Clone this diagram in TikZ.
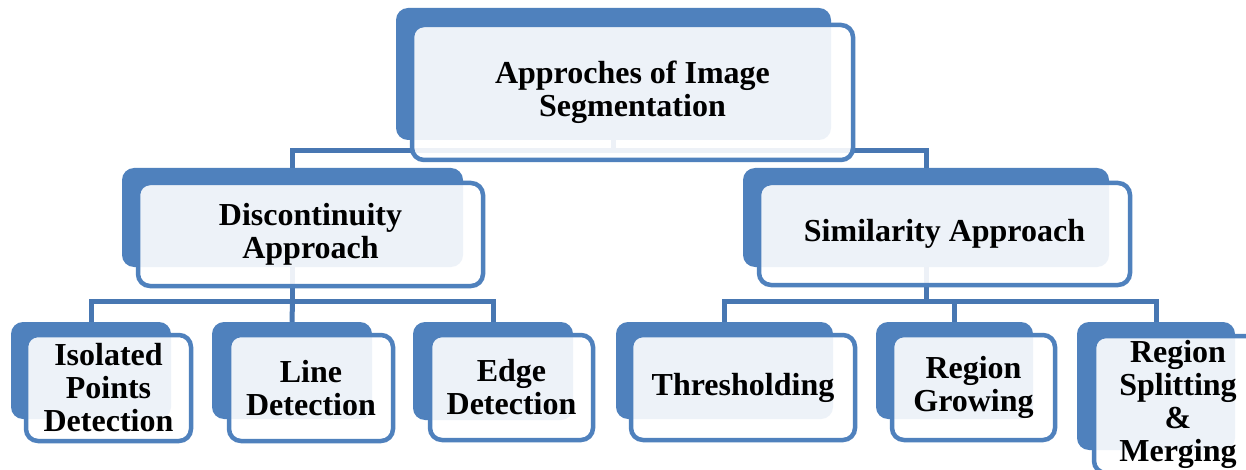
\documentclass[tikz,border=0pt]{standalone}
\usepackage{fontspec}
\setmainfont{Liberation Serif}
\usetikzlibrary{fit,backgrounds}
\definecolor{boxblue}{RGB}{79,129,189}
\definecolor{linkblue}{RGB}{72,119,178}
\begin{document}
\begin{tikzpicture}[x=1pt,y=-1pt,
  backbox/.style={fill=boxblue, draw=none, rounded corners=12pt, inner sep=0pt},
  frontbox/.style={draw=boxblue, line width=4.5pt, fill=white, fill opacity=0.9,
    text opacity=1, rounded corners=12pt, inner sep=0pt, align=center,
    font=\fontsize{32}{33}\selectfont\bfseries},
  conn/.style={draw=linkblue, line width=5pt}]
\useasboundingbox (0,0) rectangle (1246,470);
\clip (0,0) rectangle (1246,470);

% top
\node[backbox, fit={(396,8) (831,140)}] (topB) {};
\node[frontbox, minimum width=441pt, minimum height=135pt] (topF) at (632.5,92.5) {Approches of Image\\Segmentation};
% level 2
\node[backbox, fit={(122,168) (463,267)}] (discB) {};
\node[frontbox, minimum width=345pt, minimum height=103pt] (discF) at (310.5,234.5) {Discontinuity\\Approach};
\node[backbox, fit={(743,168) (1109,267)}] (simB) {};
\node[frontbox, minimum width=371pt, minimum height=102pt] (simF) at (944.5,234) {Similarity Approach};
% level 3 left
\node[backbox, fit={(11,322) (171,419)}] (isoB) {};
\node[frontbox, minimum width=165pt, minimum height=106pt] (isoF) at (108.5,388) {Isolated\\Points\\Detection};
\node[backbox, fit={(212,322) (372,419)}] (lineB) {};
\node[frontbox, minimum width=164pt, minimum height=106pt] (lineF) at (311,388) {Line\\Detection};
\node[backbox, fit={(413,322) (573,420)}] (edgeB) {};
\node[frontbox, minimum width=163pt, minimum height=105pt] (edgeF) at (511.5,387.5) {Edge\\Detection};
% level 3 right
\node[backbox, fit={(616,322) (833,419)}] (thrB) {};
\node[frontbox, minimum width=224pt, minimum height=105pt] (thrF) at (743,387.5) {Thresholding};
\node[backbox, fit={(876,322) (1033,419)}] (growB) {};
\node[frontbox, minimum width=163pt, minimum height=105pt] (growF) at (973.5,387.5) {Region\\Growing};
\node[backbox, fit={(1077,322) (1235,450)}] (splitB) {};
\node[frontbox, minimum width=168pt, minimum height=137pt] (splitF) at (1178,404.5) {Region\\Splitting\\\&\\Merging};

\begin{scope}[on background layer]
  \fill[white] (0,0) rectangle (1246,470);
  \coordinate (topJ) at ([yshift=-10pt]topB.south);
  \coordinate (discJ) at ([yshift=-34pt]discB.south);
  \coordinate (simJ) at ([yshift=-34pt]simB.south);
  \draw[conn] (topB.south) -- (topJ);
  \draw[conn] (topJ) -| (discB.north);
  \draw[conn] (topJ) -| (simB.north);
  \draw[conn] (discB.south) -- (discJ);
  \draw[conn] (discJ) -| (isoB.north);
  \draw[conn] (discJ) -| (edgeB.north);
  \draw[conn] (discJ) -- (lineB.north);
  \draw[conn] (simB.south) -- (simJ);
  \draw[conn] (simJ) -| (thrB.north);
  \draw[conn] (simJ) -| (growB.north);
  \draw[conn] (simJ) -| (splitB.north);
\end{scope}
\end{tikzpicture}
\end{document}
